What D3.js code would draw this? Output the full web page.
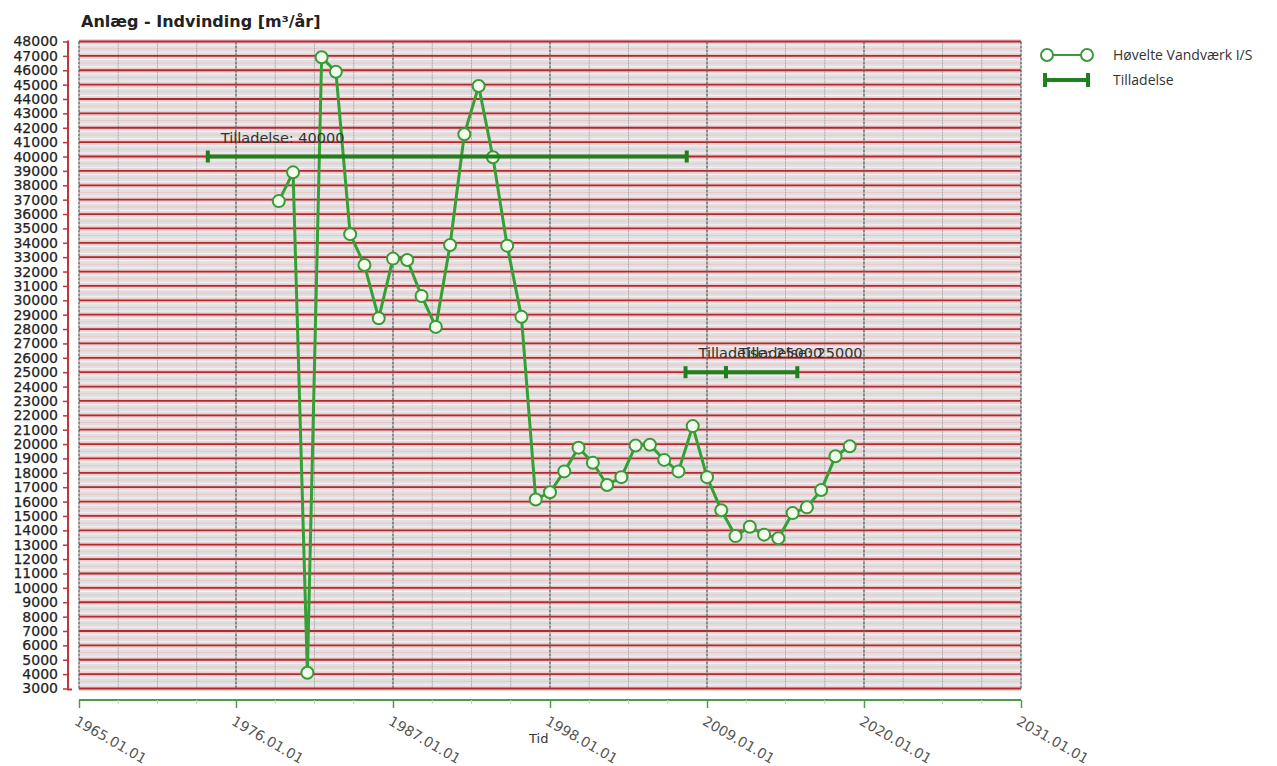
<!DOCTYPE html>
<html><head><meta charset="utf-8">
<script src="https://cdn.jsdelivr.net/npm/d3@7"></script>
<style>body{margin:0;background:#fff}</style>
</head><body><svg id="c" width="1277" height="766"></svg>
<script>
const titleText = "Anlæg - Indvinding [m³/år]";
const xAxisTitle = "Tid";
const seriesName = "Høvelte Vandværk I/S";
const permitName = "Tilladelse";

const years = [1979,1980,1981,1982,1983,1984,1985,1986,1987,1988,1989,1990,1991,1992,1993,1994,1995,1996,1997,1998,1999,2000,2001,2002,2003,2004,2005,2006,2007,2008,2009,2010,2011,2012,2013,2014,2015,2016,2017,2018,2019];
const values = [36900,38900,4100,46900,45900,34600,32450,28750,32900,32800,30300,28150,33850,41550,44900,39950,33800,28850,16150,16650,18100,19750,18700,17150,17700,19900,19950,18900,18100,21250,17700,15400,13600,14250,13700,13450,15200,15600,16800,19150,19850];

const permitStarts = ["1974-01-10","2007-07-01","2010-05-01"];
const permitEnds   = ["2007-08-01","2010-05-01","2015-05-01"];
const permitValues = [40000,25000,25000];

const xTickDates = ["1965-01-01","1976-01-01","1987-01-01","1998-01-01","2009-01-01","2020-01-01","2031-01-01"];
const yMin = 3000, yMax = 48000, yStep = 1000, yMinorStep = 250;

const svg = d3.select("#c");
const L = 79, R = 1021, T = 41.5, B = 688.5;
const parse = d3.utcParse("%Y-%m-%d");
const x = d3.scaleUtc().domain([parse(xTickDates[0]), parse(xTickDates[xTickDates.length-1])]).range([L, R]);
const y = d3.scaleLinear().domain([yMin, yMax]).range([B, T]);

// background
svg.append("rect").attr("x", L).attr("y", T).attr("width", R-L).attr("height", B-T).attr("fill", "#dfe0e2");

// minor horizontal grid
const yMinor = d3.range(yMin, yMax + 1, yMinorStep).filter(v => v % yStep !== 0);
svg.append("g").selectAll("line").data(yMinor).join("line")
  .attr("x1", L).attr("x2", R).attr("y1", d => y(d)).attr("y2", d => y(d))
  .attr("stroke", d => d % 500 === 0 ? "#f0c4c4" : "#f5f2f2").attr("stroke-width", 1);
// pink halo lines around major lines
const yMajor = d3.range(yMin, yMax + 1, yStep);
svg.append("g").selectAll("line").data(yMajor).join("line")
  .attr("x1", L).attr("x2", R).attr("y1", d => y(d)).attr("y2", d => y(d))
  .attr("stroke", "#f2caca").attr("stroke-width", 4.5);

// vertical grid
const majorDates = xTickDates.map(parse);
const minorX = [];
for (let i = 0; i < majorDates.length - 1; i++) {
  const a = x(majorDates[i]), b = x(majorDates[i+1]);
  for (let k = 1; k < 4; k++) minorX.push(a + (b - a) * k / 4);
}
svg.append("g").selectAll("line").data(minorX).join("line")
  .attr("x1", d => d).attr("x2", d => d).attr("y1", T).attr("y2", B)
  .attr("stroke", "#a9a9a9").attr("stroke-width", 1).attr("stroke-dasharray", "2,1");

// major horizontal grid
svg.append("g").selectAll("line").data(yMajor).join("line")
  .attr("x1", L).attr("x2", R).attr("y1", d => y(d)).attr("y2", d => y(d))
  .attr("stroke", "#b02a30").attr("stroke-width", 1.8);

svg.append("g").selectAll("line").data(majorDates).join("line")
  .attr("x1", d => x(d)).attr("x2", d => x(d)).attr("y1", T).attr("y2", B)
  .attr("stroke", "#666").attr("stroke-width", 1.4).attr("stroke-dasharray", "3,1");

// Y axis
const yAxis = svg.append("g").attr("transform", "translate(68,0)")
  .call(d3.axisLeft(y).tickValues(yMajor).tickSize(5).tickSizeOuter(0).tickPadding(5).tickFormat(d3.format("d")));
yAxis.select(".domain").attr("stroke", "#c0363a").attr("stroke-width", 2).attr("d", `M0,${T-1}V${B+1}h4`);
yAxis.selectAll(".tick line").attr("stroke", "#c0363a").attr("stroke-width", 1.5);
yAxis.selectAll("text").attr("font-family", "DejaVu Sans").attr("font-size", 14).attr("fill", "#222")
  .attr("stroke", "#222").attr("stroke-width", 0.25);

// X axis
const xAxis = svg.append("g").attr("transform", "translate(0,700)")
  .call(d3.axisBottom(x).tickValues(majorDates).tickSize(8).tickSizeOuter(0).tickFormat(d3.utcFormat("%Y.%m.%d")));
xAxis.select(".domain").attr("stroke", "#4c9c4c").attr("stroke-width", 2).attr("d", `M${L},0H${R}`);
xAxis.selectAll(".tick line").attr("stroke", "#4c9c4c").attr("stroke-width", 1.5);
xAxis.selectAll("text").attr("x", 0).attr("y", 0).attr("dy", 0)
  .attr("transform", "translate(-6,24) rotate(30)").attr("text-anchor", "start")
  .attr("font-family", "DejaVu Sans").attr("font-size", 14).attr("fill", "#555");
xAxis.append("g").selectAll("line").data(minorX).join("line")
  .attr("x1", d => d).attr("x2", d => d).attr("y1", 0).attr("y2", 4)
  .attr("stroke", "#b8d8b8").attr("stroke-width", 1);

svg.append("text").attr("x", 529).attr("y", 743).text(xAxisTitle)
  .attr("font-family", "DejaVu Sans").attr("font-size", 13).attr("fill", "#333");

// series
const pts = years.map((yr, i) => ({d: parse(yr + "-01-01"), v: values[i]}));
svg.append("path").datum(pts)
  .attr("d", d3.line().x(d => x(d.d)).y(d => y(d.v)))
  .attr("fill", "none").attr("stroke", "#35a035").attr("stroke-width", 3).attr("stroke-linejoin", "round");
svg.append("g").selectAll("circle").data(pts).join("circle")
  .attr("cx", d => x(d.d)).attr("cy", d => y(d.v)).attr("r", 6)
  .attr("fill", "#f3fdec").attr("stroke", "#3a9a3a").attr("stroke-width", 2);

// permits
const permits = permitValues.map((v, i) => ({s: parse(permitStarts[i]), e: parse(permitEnds[i]), v}));
const pg = svg.append("g");
permits.forEach(p => {
  const x1 = x(p.s), x2 = x(p.e), yy = y(p.v);
  pg.append("line").attr("x1", x1).attr("x2", x2).attr("y1", yy).attr("y2", yy)
    .attr("stroke", "#1f801f").attr("stroke-width", 4);
  [x1, x2].forEach(xx => pg.append("rect").attr("x", xx - 2).attr("y", yy - 6).attr("width", 4).attr("height", 12).attr("fill", "#1f801f"));
});
permits.forEach(p => {
  svg.append("text").attr("x", x(p.s) + 13).attr("y", y(p.v) - 14)
    .text(permitName + ": " + p.v)
    .attr("font-family", "DejaVu Sans").attr("font-size", 14.5).attr("fill", "#333");
});

// title
svg.append("text").attr("x", 81).attr("y", 27).text(titleText)
  .attr("font-family", "DejaVu Sans").attr("font-weight", "bold").attr("font-size", 16).attr("fill", "#222");

// legend
const lg = svg.append("g");
lg.append("line").attr("x1", 1047).attr("x2", 1087).attr("y1", 55).attr("y2", 55).attr("stroke", "#3a9a3a").attr("stroke-width", 2);
[1047, 1087].forEach(cx => lg.append("circle").attr("cx", cx).attr("cy", 55).attr("r", 6).attr("fill", "#fff").attr("stroke", "#3a9a3a").attr("stroke-width", 2));
lg.append("text").attr("x", 1113).attr("y", 55).attr("dy", "0.35em").text(seriesName)
  .attr("font-family", "Open Sans").attr("font-size", 14).attr("fill", "#333");
lg.append("line").attr("x1", 1045).attr("x2", 1088).attr("y1", 80).attr("y2", 80).attr("stroke", "#1f801f").attr("stroke-width", 4);
[1045, 1088].forEach(xx => lg.append("rect").attr("x", xx - 2).attr("y", 73).attr("width", 4).attr("height", 14).attr("fill", "#1f801f"));
lg.append("text").attr("x", 1113).attr("y", 80).attr("dy", "0.35em").text(permitName)
  .attr("font-family", "Open Sans").attr("font-size", 14).attr("fill", "#333");
</script></body></html>
